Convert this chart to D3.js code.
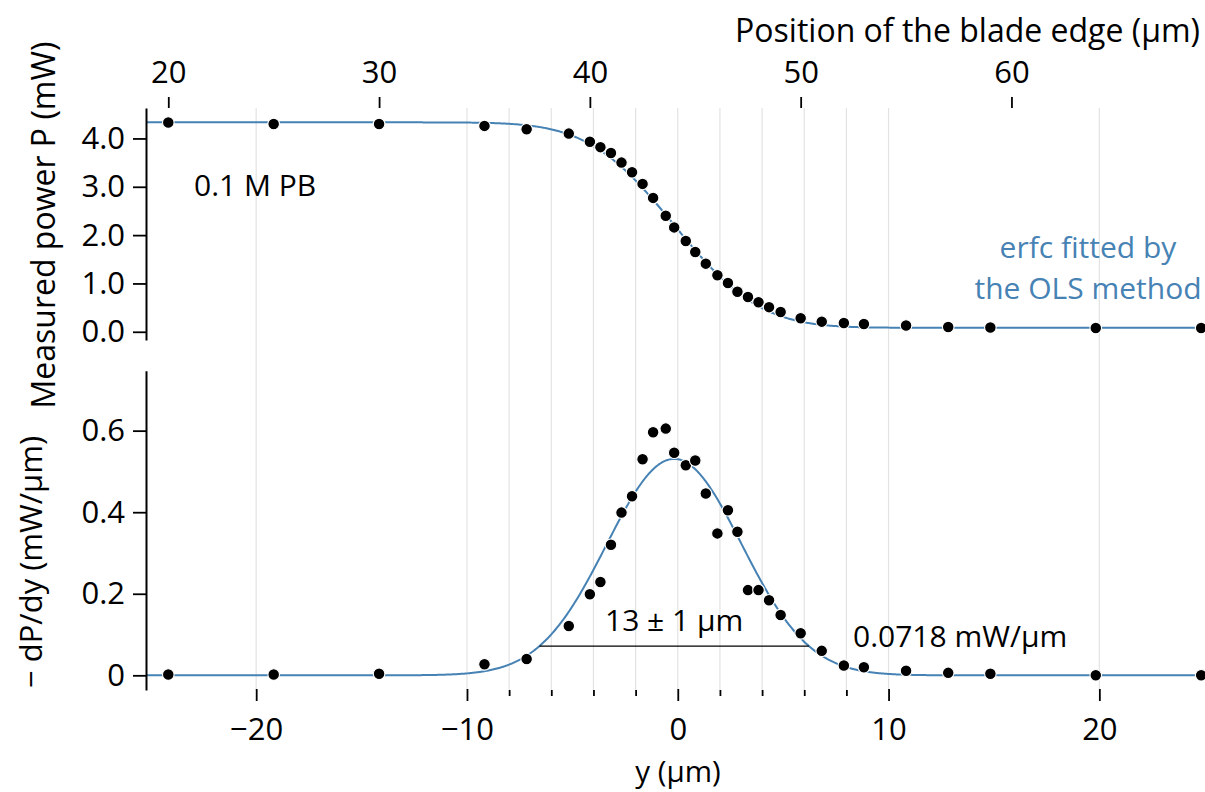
<!DOCTYPE html>
<html>
<head>
<meta charset="utf-8">
<script src="https://cdn.jsdelivr.net/npm/d3@7"></script>
<style>
  html, body { margin: 0; padding: 0; background: #fff; }
  svg { display: block; font-family: "Open Sans", "Noto Sans", sans-serif; }
</style>
</head>
<body>
<svg id="chart" width="1205" height="792"></svg>
<script>
// ---------------- data ----------------
// blade-edge positions (µm)
const positions = [20, 25, 30, 35, 37, 39, 40, 40.5, 41, 41.5, 42, 42.5, 43, 43.6, 44, 44.55,
  45, 45.5, 46.05, 46.55, 47, 47.5, 48, 48.5, 49.05, 50, 51, 52.05, 53, 55, 57, 59, 64, 69];
// measured power P (mW)
const power = [4.33, 4.30, 4.30, 4.26, 4.19, 4.10, 3.93, 3.82, 3.70, 3.50, 3.30, 3.06, 2.77, 2.40, 2.16, 1.88,
  1.65, 1.41, 1.17, 1.01, 0.83, 0.72, 0.61, 0.51, 0.41, 0.28, 0.21, 0.18, 0.16, 0.13, 0.10, 0.09, 0.08, 0.08];
// −dP/dy (mW/µm)
const deriv = [0.002, 0.002, 0.004, 0.027, 0.040, 0.121, 0.199, 0.229, 0.320, 0.399, 0.439, 0.530, 0.596, 0.605, 0.546, 0.515,
  0.527, 0.446, 0.348, 0.405, 0.352, 0.209, 0.209, 0.184, 0.148, 0.103, 0.060, 0.024, 0.020, 0.011, 0.006, 0.004, 0.000, 0.000];

// fit parameters (erfc fitted by OLS)
const centerPos = 44.17;     // blade position at y = 0
const fitOffset = 0.083;     // mW
const fitAmp = 4.25;         // mW
const fitCenter = -0.17;     // µm (in y)
const fitW = 6.39;           // µm, 1/e² radius
const levelValue = 0.0718;   // mW/µm

// ticks
const topTicks = [20, 30, 40, 50, 60];
const bottomMajor = [-20, -10, 0, 10, 20];
const bottomMinor = [-8, -6, -4, -2, 2, 4, 6, 8];
const gridTicks = [-20, -10, -8, -6, -4, -2, 0, 2, 4, 6, 8, 10, 20];
const powerTicks = [0, 1, 2, 3, 4];
const derivTicks = [0, 0.2, 0.4, 0.6];

// ---------------- helpers ----------------
function erf(x) {
  const s = Math.sign(x); x = Math.abs(x);
  const a1 = 0.254829592, a2 = -0.284496736, a3 = 1.421413741, a4 = -1.453152027, a5 = 1.061405429, p = 0.3275911;
  const t = 1 / (1 + p * x);
  const y = 1 - (((((a5 * t + a4) * t) + a3) * t + a2) * t + a1) * t * Math.exp(-x * x);
  return s * y;
}
const erfc = x => 1 - erf(x);
const fitP = y => fitOffset + fitAmp / 2 * erfc(Math.SQRT2 * (y - fitCenter) / fitW);
const fitD = y => fitAmp * Math.sqrt(2 / Math.PI) / fitW * Math.exp(-2 * (y - fitCenter) ** 2 / (fitW * fitW));

// ---------------- layout ----------------
const svg = d3.select("#chart");
const BLUE = "#4682b4";
const FONT_TICK = 31, FONT_ANN = 30;

const xDom = [-25.18, 25.05];
const x = d3.scaleLinear().domain(xDom).range([147, 1205.8]);
const xTop = d3.scaleLinear().domain([xDom[0] + centerPos, xDom[1] + centerPos]).range([147, 1205.8]);

const yTopPanel = d3.scaleLinear().domain([-0.17, 4.63]).range([340, 108]);
const yBot = d3.scaleLinear().domain([-0.036, 0.747]).range([690, 370.7]);

const data = positions.map((p, i) => ({ y: p - centerPos, P: power[i], D: deriv[i] }));

// grid lines
svg.append("g").selectAll("line").data(gridTicks).join("line")
  .attr("x1", d => x(d)).attr("x2", d => x(d))
  .attr("y1", 108).attr("y2", 690)
  .attr("stroke", "#e3e3e3").attr("stroke-width", 1.2);

// clip for curves
svg.append("clipPath").attr("id", "clipTop").append("rect")
  .attr("x", 147).attr("y", 100).attr("width", 1060).attr("height", 245);
svg.append("clipPath").attr("id", "clipBot").append("rect")
  .attr("x", 147).attr("y", 360).attr("width", 1060).attr("height", 335);

// fitted curves
const ys = d3.range(xDom[0], xDom[1] + 0.05, 0.05);
svg.append("path").datum(ys)
  .attr("clip-path", "url(#clipTop)")
  .attr("fill", "none").attr("stroke", BLUE).attr("stroke-width", 2)
  .attr("d", d3.line().x(d => x(d)).y(d => yTopPanel(fitP(d))));
svg.append("path").datum(ys)
  .attr("clip-path", "url(#clipBot)")
  .attr("fill", "none").attr("stroke", BLUE).attr("stroke-width", 2)
  .attr("d", d3.line().x(d => x(d)).y(d => yBot(fitD(d))));

// 1/e² width line
svg.append("line")
  .attr("x1", x(fitCenter - fitW)).attr("x2", x(fitCenter + fitW))
  .attr("y1", yBot(levelValue)).attr("y2", yBot(levelValue))
  .attr("stroke", "#000").attr("stroke-width", 1.2);

// points
svg.append("g").selectAll("circle").data(data).join("circle")
  .attr("cx", d => x(d.y)).attr("cy", d => yTopPanel(d.P)).attr("r", 5.8)
  .attr("fill", "#000").attr("stroke", "#fff").attr("stroke-width", 1.1);
svg.append("g").selectAll("circle").data(data).join("circle")
  .attr("cx", d => x(d.y)).attr("cy", d => yBot(d.D)).attr("r", 5.8)
  .attr("fill", "#000").attr("stroke", "#fff").attr("stroke-width", 1.1);

// axes styling
function styleAxis(g, fontSize) {
  g.selectAll("text").attr("font-size", fontSize).attr("fill", "#000")
    .attr("font-family", '"Open Sans", "Noto Sans", sans-serif');
  g.selectAll("line").attr("stroke", "#000").attr("stroke-width", 1.8);
  g.selectAll(".domain").attr("stroke", "#000").attr("stroke-width", 2);
}

// left axis top panel
const gyt = svg.append("g").attr("transform", "translate(146,0)")
  .call(d3.axisLeft(yTopPanel).tickValues(powerTicks).tickFormat(d3.format(".1f")).tickSize(13).tickSizeOuter(0).tickPadding(8));
styleAxis(gyt, FONT_TICK);

// left axis bottom panel
const gyb = svg.append("g").attr("transform", "translate(146,0)")
  .call(d3.axisLeft(yBot).tickValues(derivTicks).tickFormat(d => d === 0 ? "0" : d3.format(".1f")(d)).tickSize(13).tickSizeOuter(0).tickPadding(8));
styleAxis(gyb, FONT_TICK);

// bottom axis
const gxb = svg.append("g").attr("transform", "translate(0,689)")
  .call(d3.axisBottom(x).tickValues(bottomMajor).tickSize(12).tickPadding(17));
gxb.select(".domain").remove();
styleAxis(gxb, FONT_TICK);
const gxm = svg.append("g").attr("transform", "translate(0,690)")
  .call(d3.axisBottom(x).tickValues(bottomMinor).tickSize(6).tickFormat(""));
gxm.select(".domain").remove();
styleAxis(gxm, FONT_TICK);

// top axis
const gxt = svg.append("g").attr("transform", "translate(0,108)")
  .call(d3.axisTop(xTop).tickValues(topTicks).tickSize(11).tickPadding(14));
gxt.select(".domain").remove();
styleAxis(gxt, FONT_TICK);

// axis titles
svg.append("text").attr("x", 1200).attr("y", 42).attr("text-anchor", "end")
  .attr("font-size", 32).text("Position of the blade edge (µm)");
svg.append("text").attr("x", 678).attr("y", 782).attr("text-anchor", "middle")
  .attr("font-size", 29.5).text("y (µm)");
svg.append("text").attr("transform", "translate(55,225) rotate(-90)").attr("text-anchor", "middle")
  .attr("font-size", 32).text("Measured power P (mW)");
svg.append("text").attr("transform", "translate(42,562) rotate(-90)").attr("text-anchor", "middle")
  .attr("font-size", 31).text("− dP/dy (mW/µm)");

// annotations
svg.append("text").attr("x", 194).attr("y", 196).attr("font-size", FONT_ANN).text("0.1 M PB");
const leg = svg.append("text").attr("text-anchor", "middle").attr("fill", BLUE).attr("font-size", FONT_ANN);
leg.append("tspan").attr("x", 1088).attr("y", 258).text("erfc fitted by");
leg.append("tspan").attr("x", 1088).attr("y", 299).text("the OLS method");
svg.append("text").attr("x", x(fitCenter)).attr("y", 631).attr("text-anchor", "middle")
  .attr("font-size", FONT_ANN).text("13 ± 1 µm");
svg.append("text").attr("x", 853).attr("y", 647)
  .attr("font-size", FONT_ANN).text("0.0718 mW/µm");
</script>
</body>
</html>
